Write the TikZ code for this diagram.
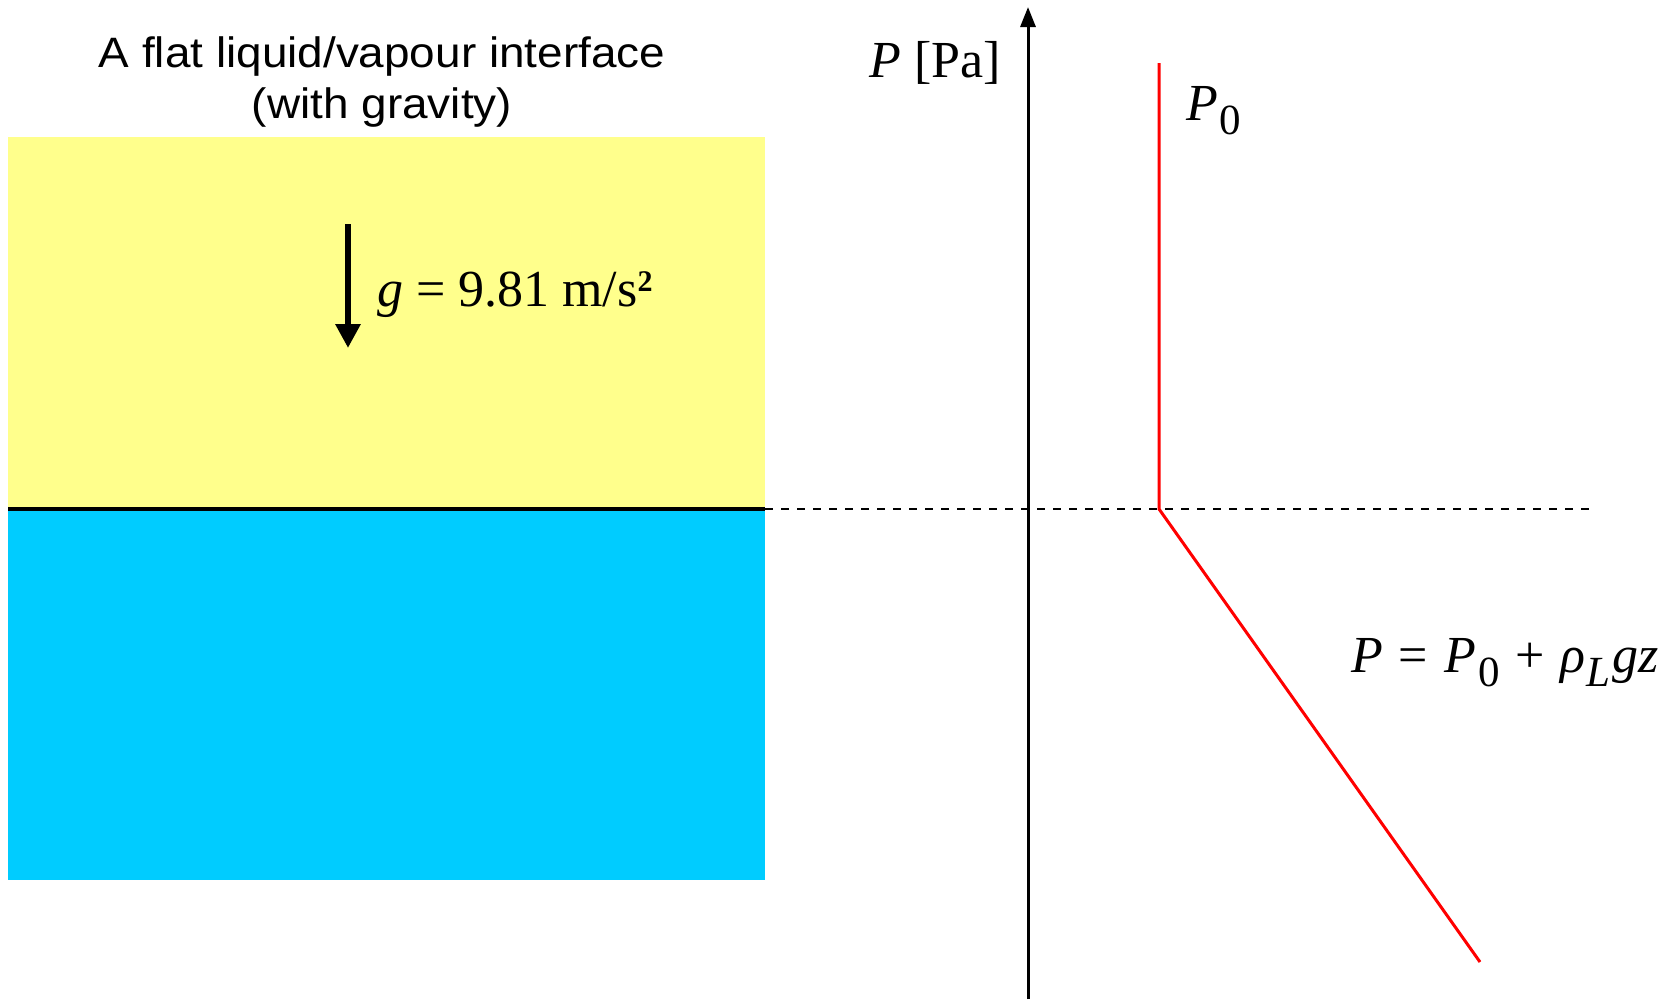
\documentclass[tikz,border=0pt]{standalone}
\usepackage{fontspec}
\setmainfont{Liberation Serif}
\newfontfamily\titlefont[FakeStretch=1.08]{Liberation Sans}
\usetikzlibrary{arrows.meta}
\definecolor{vapour}{RGB}{255,255,140}
\definecolor{liquid}{RGB}{0,204,255}
\definecolor{curve}{RGB}{255,0,0}
\tikzset{
  titletext/.style={anchor=base, inner sep=0pt, font=\titlefont\fontsize{42.5}{50}\selectfont},
  serif/.style={inner sep=0pt, font=\fontsize{52}{60}\selectfont},
  axisline/.style={line width=3pt, -{Triangle[length=20pt,width=15pt]}},
  gravarrow/.style={line width=6pt, -{Triangle[length=24pt,width=24pt]}},
  redline/.style={draw=curve, line width=3pt, line join=miter},
  dashline/.style={line width=1.5pt, dash pattern=on 8pt off 8pt},
}
\newcommand{\sub}[1]{\raisebox{-14pt}{\fontsize{43}{48}\selectfont #1}}
\newcommand{\opsp}{\hspace{16pt}}
\begin{document}
\begin{tikzpicture}[x=1pt,y=-1pt]
\useasboundingbox (0,0) rectangle (1677,999);
% regions
\coordinate (vtl) at (8,137);
\coordinate (ifl) at (8,509);
\coordinate (ifr) at (765,509);
\coordinate (lbr) at (765,880);
\fill[vapour] (vtl) rectangle (ifr);
\fill[liquid] (ifl) rectangle (lbr);
\draw[line width=4pt] (ifl) -- (ifr);
% dashed level
\coordinate (dend) at (1589,509);
\draw[dashline] (ifr) -- (dend);
% titles
\node[titletext] (t1) at (382,67) {A flat liquid/vapour interface};
\node[titletext] (t2) at (382,118) {(with gravity)};
% gravity
\coordinate (gtop) at (348,224);
\coordinate (gbot) at (348,348);
\draw[gravarrow] (gtop) -- (gbot);
\node[serif, anchor=base west] (glab) at (377,306) {\textit{g} = 9.81 m/s\raisebox{15pt}{\fontsize{30}{34}\selectfont\bfseries 2}};
% axis
\coordinate (abot) at (1028,999);
\coordinate (atop) at (1028,7);
\draw[axisline] (abot) -- (atop);
\node[serif, anchor=base east] (alab) at (1001,77) {\textit{P} [Pa]};
% pressure curve
\coordinate (ptop) at (1159,63);
\coordinate (pknee) at (1159,509);
\coordinate (pend) at (1480,962);
\draw[redline] (ptop) -- (pknee) -- (pend);
\node[serif, anchor=base west] (p0) at (1186,120) {\textit{P}\kern2pt\sub{0}};
\node[serif, anchor=base west] (eq) at (1351,672) {\textit{P}\opsp=\opsp\textit{P}\kern2pt\sub{0}\opsp+\opsp\textit{ρ}\kern1pt\sub{\textit{L}}\kern2pt\textit{gz}};
\end{tikzpicture}
\end{document}
